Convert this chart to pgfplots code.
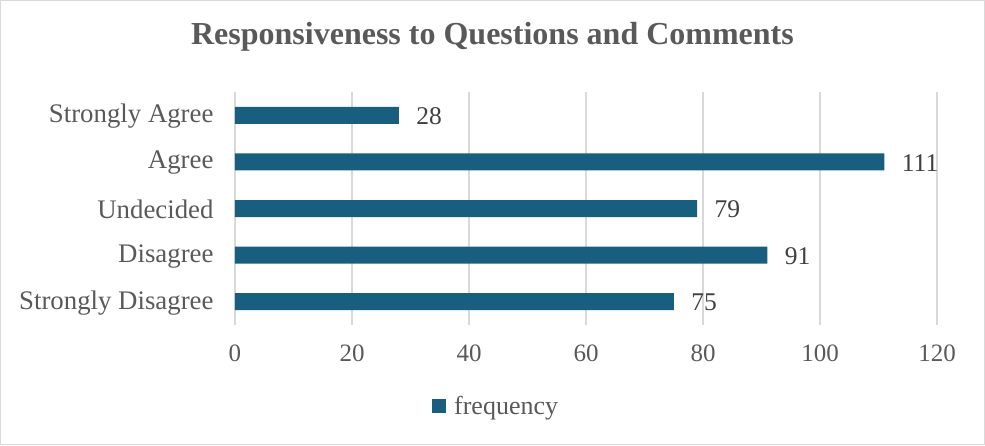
\documentclass[border=0pt]{standalone}
\usepackage{pgfplots}
\pgfplotsset{compat=1.18}
\usepackage{fontspec}
\setmainfont{Liberation Serif}
\definecolor{barc}{HTML}{175E7F}
\definecolor{txt}{HTML}{595959}
\definecolor{lbl}{HTML}{404040}
\definecolor{grd}{HTML}{D9D9D9}
\begin{document}
\begin{tikzpicture}
\path[use as bounding box] (0,0) rectangle (985pt,445pt);
\draw[grd, line width=1pt] (0.5pt,0.5pt) rectangle (984.5pt,444.5pt);
\node[text=txt, font=\fontsize{32}{38}\selectfont\bfseries] at (492.5pt,408pt) {Responsiveness to Questions and Comments};
\begin{axis}[
  at={(235pt,120pt)}, anchor=south west,
  scale only axis, width=702pt, height=233pt,
  xbar, bar width=17pt,
  xmin=0, xmax=120, ymin=-0.5, ymax=4.5,
  xtick={0,20,...,120},
  ytick={0,1,2,3,4},
  yticklabels={Strongly Disagree,Disagree,Undecided,Agree,Strongly Agree},
  axis line style={draw=none},
  major tick length=0pt,
  xmajorgrids, grid style={grd, line width=1.5pt},
  ticklabel style={text=txt, font=\fontsize{25}{30}\selectfont},
  /pgf/number format/assume math mode=true,
  xticklabel style={yshift=-16pt},
  yticklabel style={xshift=-18pt, font=\fontsize{26.8}{32}\selectfont, yshift=-1pt},
  nodes near coords,
  every node near coord/.append style={text=lbl, font=\fontsize{25.5}{30}\selectfont, anchor=west, xshift=14pt, yshift=-1pt},
  legend style={at={(0.372,-0.348)}, anchor=center, draw=none, fill=none,
    font=\fontsize{26}{30}\selectfont, text=txt,
    /tikz/every odd column/.append style={column sep=6pt}},
  legend image code/.code={\fill[barc] (0pt,-7pt) rectangle (14pt,7pt);},
]
\addplot[fill=barc, draw=none] coordinates {(75,0) (91,1) (79,2) (111,3) (28,4)};
\addlegendentry{frequency}
\end{axis}
\end{tikzpicture}
\end{document}
